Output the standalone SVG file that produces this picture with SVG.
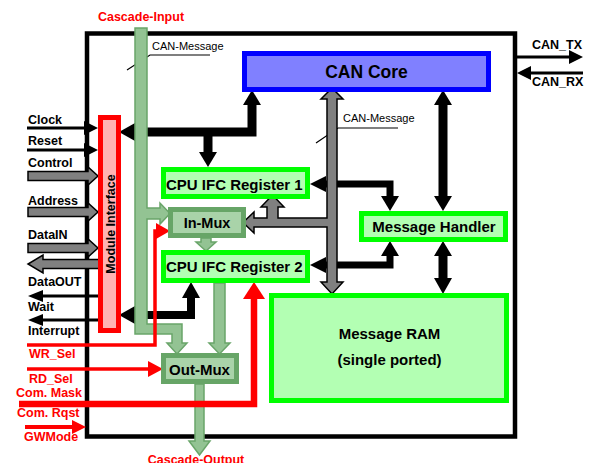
<svg xmlns="http://www.w3.org/2000/svg" width="589" height="463" viewBox="0 0 589 463">
<style>
text{font-family:"Liberation Sans",Arial,sans-serif;font-weight:bold;fill:#000}
.lbl{font-size:12.5px}
.red{fill:#ff0000}
.node{font-size:15px}
.small{font-size:11px;font-weight:normal}
.blk{fill:#000}
.bl{stroke:#000;fill:none}
.rl{stroke:#ff0000;fill:none}
.rh{fill:#ff0000}
.gray{fill:#808080;stroke:#000;stroke-width:1.5;stroke-linejoin:miter}
.grn{fill:#93c393;stroke:#69a569;stroke-width:1.5}
.reg{fill:#b3ffb3;stroke:#00ff00;stroke-width:5}
.mux{fill:#a9d3a9;stroke:#67a567;stroke-width:5}
</style>
<rect id="frame" x="87" y="33.5" width="428" height="403" fill="#fff" stroke="#000" stroke-width="4.5"/>

<g id="connectors">
  <!-- leader lines -->
  <polyline class="bl" stroke-width="1.2" points="127,70 150,55 210,55"/>
  <polyline class="bl" stroke-width="1.2" points="316,143 338,128 398,128"/>
  <!-- CAN TX / RX -->
  <line class="bl" stroke-width="3" x1="517" y1="57" x2="570" y2="57"/>
  <polygon class="blk" points="583,57 569,50 569,64"/>
  <line class="bl" stroke-width="3" x1="530" y1="73" x2="583" y2="73"/>
  <polygon class="blk" points="517,73 531,66 531,80"/>
  <!-- Clock / Reset -->
  <line class="bl" stroke-width="3" x1="27" y1="128" x2="86" y2="128"/>
  <polygon class="blk" points="98,128 84,121 84,135"/>
  <line class="bl" stroke-width="3" x1="27" y1="150" x2="86" y2="150"/>
  <polygon class="blk" points="98,150 84,143 84,157"/>
  <!-- Control / Address / DataIN / DataOUT -->
  <polygon class="gray" points="28,171.5 88,171.5 88,167 98,176 88,185 88,180.5 28,180.5"/>
  <polygon class="gray" points="28,207.5 88,207.5 88,203 98,212 88,221 88,216.5 28,216.5"/>
  <polygon class="gray" points="28,243.5 88,243.5 88,239 98,248 88,257 88,252.5 28,252.5"/>
  <polygon class="gray" points="100,259.5 43,259.5 43,255 28,264 43,273 43,268.5 100,268.5"/>
  <!-- Wait / Interrupt -->
  <line class="bl" stroke-width="3" x1="40" y1="296" x2="100" y2="296"/>
  <polygon class="blk" points="28,296 43,290 43,302"/>
  <line class="bl" stroke-width="3" x1="40" y1="320" x2="100" y2="320"/>
  <polygon class="blk" points="28,320 43,314 43,326"/>
  <!-- Module Interface <-> CAN Core / Reg 1 -->
  <polyline class="bl" stroke-width="9" stroke-linejoin="miter" points="134,132 252,132 252,103"/>
  <polygon class="blk" points="119,132 135,123 135,141"/>
  <polygon class="blk" points="252,90 243,105 261,105"/>
  <line class="bl" stroke-width="9" x1="208" y1="132" x2="208" y2="154"/>
  <polygon class="blk" points="208,167 199,152 217,152"/>
  <!-- Module Interface <-> Reg 2 -->
  <polyline class="bl" stroke-width="8" stroke-linejoin="miter" points="134,315 191,315 191,296"/>
  <polygon class="blk" points="119,315 135,306 135,324"/>
  <polygon class="blk" points="191,282 182,298 200,298"/>
  <!-- Reg1/Reg2 <-> Message Handler -->
  <polyline class="bl" stroke-width="7" stroke-linejoin="miter" points="324,184 390,184 390,198"/>
  <polygon class="blk" points="310,184 326,176 326,192"/>
  <polygon class="blk" points="390,211 381,196 399,196"/>
  <polyline class="bl" stroke-width="7" stroke-linejoin="miter" points="324,265 390,265 390,255"/>
  <polygon class="blk" points="310,265 326,257 326,273"/>
  <polygon class="blk" points="390,241 381,256 399,256"/>
  <!-- CAN Core <-> Message Handler <-> RAM -->
  <line class="bl" stroke-width="9" x1="443" y1="103" x2="443" y2="199"/>
  <polygon class="blk" points="443,90 434,105 452,105"/>
  <polygon class="blk" points="443,211 434,196 452,196"/>
  <line class="bl" stroke-width="9" x1="443" y1="254" x2="443" y2="280"/>
  <polygon class="blk" points="443,241 434,256 452,256"/>
  <polygon class="blk" points="443,294 434,278 452,278"/>
  <!-- gray CAN-Message bus -->
  <polygon class="gray" points="332,88 343,99 337,99 337,282 343,282 332,294 321,282 327,282 327,227 254,227 254,233 243,222.5 254,212 254,218 267,218 267,207 261,207 272.5,195 284,207 278,207 278,218 327,218 327,99 321,99"/>
  <!-- green cascade paths -->
  <polygon class="grn" points="135,28 147,28 147,208 160,208 160,203 170,213.5 160,224 160,219 147,219 147,324 182,324 182,343 187,343 177,354 167,343 172,343 172,334 135,334"/>
  <polygon class="grn" points="201,238 211,238 211,242 216,242 206,251 196,242 201,242"/>
  <polygon class="grn" points="214,283 225,283 225,343 230,343 219.5,354 209,343 214,343"/>
  <polygon class="grn" points="195,384 204,384 204,441 210,441 199.5,455 189,441 195,441"/>
  <!-- red control lines -->
  <polyline class="rl" stroke-width="3.5" stroke-linejoin="miter" points="27,345 155,345 155,231 158,231"/>
  <polygon class="rh" points="170,231 156,223 156,239"/>
  <line class="rl" stroke-width="3.5" x1="27" y1="369" x2="150" y2="369"/>
  <polygon class="rh" points="163,369 148,361 148,377"/>
  <polyline class="rl" stroke-width="6.5" stroke-linejoin="miter" points="19,404 254,404 254,297"/>
  <polygon class="rh" points="254,282 243,299 265,299"/>
  <line class="rl" stroke-width="4" x1="25" y1="427" x2="74" y2="427"/>
  <polygon class="rh" points="86,427 72,420 72,434"/>
</g>

<g id="can-core">
  <rect x="244.5" y="53.5" width="244" height="36" fill="#8080ff" stroke="#0000ff" stroke-width="5"/>
  <text x="366.5" y="78" text-anchor="middle" font-size="17.5">CAN Core</text>
</g>
<g id="module-interface">
  <rect x="100.5" y="117.5" width="18" height="213" fill="#ffb3b3" stroke="#ff0000" stroke-width="5"/>
  <text transform="translate(115,224) rotate(-90)" text-anchor="middle" font-size="12.5">Module Interface</text>
</g>
<g id="cpu-ifc-register-1">
  <rect class="reg" x="163.5" y="169.5" width="144" height="27"/>
  <text class="node" x="166" y="190">CPU IFC Register 1</text>
</g>
<g id="in-mux">
  <rect class="mux" x="170.5" y="209.5" width="73" height="26"/>
  <text x="207" y="228" text-anchor="middle" font-size="14.5">In-Mux</text>
</g>
<g id="cpu-ifc-register-2">
  <rect class="reg" x="163.5" y="252.5" width="144" height="28"/>
  <text class="node" x="166" y="272">CPU IFC Register 2</text>
</g>
<g id="out-mux">
  <rect class="mux" x="163.5" y="355.5" width="73" height="26"/>
  <text class="node" x="199.5" y="375" text-anchor="middle">Out-Mux</text>
</g>
<g id="message-handler">
  <rect class="reg" x="361.5" y="213.5" width="144" height="26"/>
  <text class="node" x="434" y="232" text-anchor="middle">Message Handler</text>
</g>
<g id="message-ram">
  <rect class="reg" x="271.5" y="295.5" width="235" height="105"/>
  <text class="node" x="389.5" y="339" text-anchor="middle">Message RAM</text>
  <text class="node" x="389.5" y="365" text-anchor="middle">(single ported)</text>
</g>

<g id="labels">
  <text class="lbl red" x="141" y="21" text-anchor="middle">Cascade-Input</text>
  <text class="lbl red" x="196" y="464" text-anchor="middle">Cascade-Output</text>
  <text class="small" x="152" y="50">CAN-Message</text>
  <text class="small" x="343" y="122">CAN-Message</text>
  <text class="lbl" x="532" y="49">CAN_TX</text>
  <text class="lbl" x="532" y="86">CAN_RX</text>
  <text class="lbl" x="28" y="124">Clock</text>
  <text class="lbl" x="28" y="145">Reset</text>
  <text class="lbl" x="28" y="167">Control</text>
  <text class="lbl" x="28" y="205">Address</text>
  <text class="lbl" x="28" y="239">DataIN</text>
  <text class="lbl" x="28" y="286">DataOUT</text>
  <text class="lbl" x="28" y="311">Wait</text>
  <text class="lbl" x="28" y="335">Interrupt</text>
  <text class="lbl red" x="29" y="358">WR_Sel</text>
  <text class="lbl red" x="29" y="383">RD_Sel</text>
  <text class="lbl red" x="16" y="397">Com. Mask</text>
  <text class="lbl red" x="17" y="417">Com. Rqst</text>
  <text class="lbl red" x="24" y="441">GWMode</text>
</g>
</svg>
